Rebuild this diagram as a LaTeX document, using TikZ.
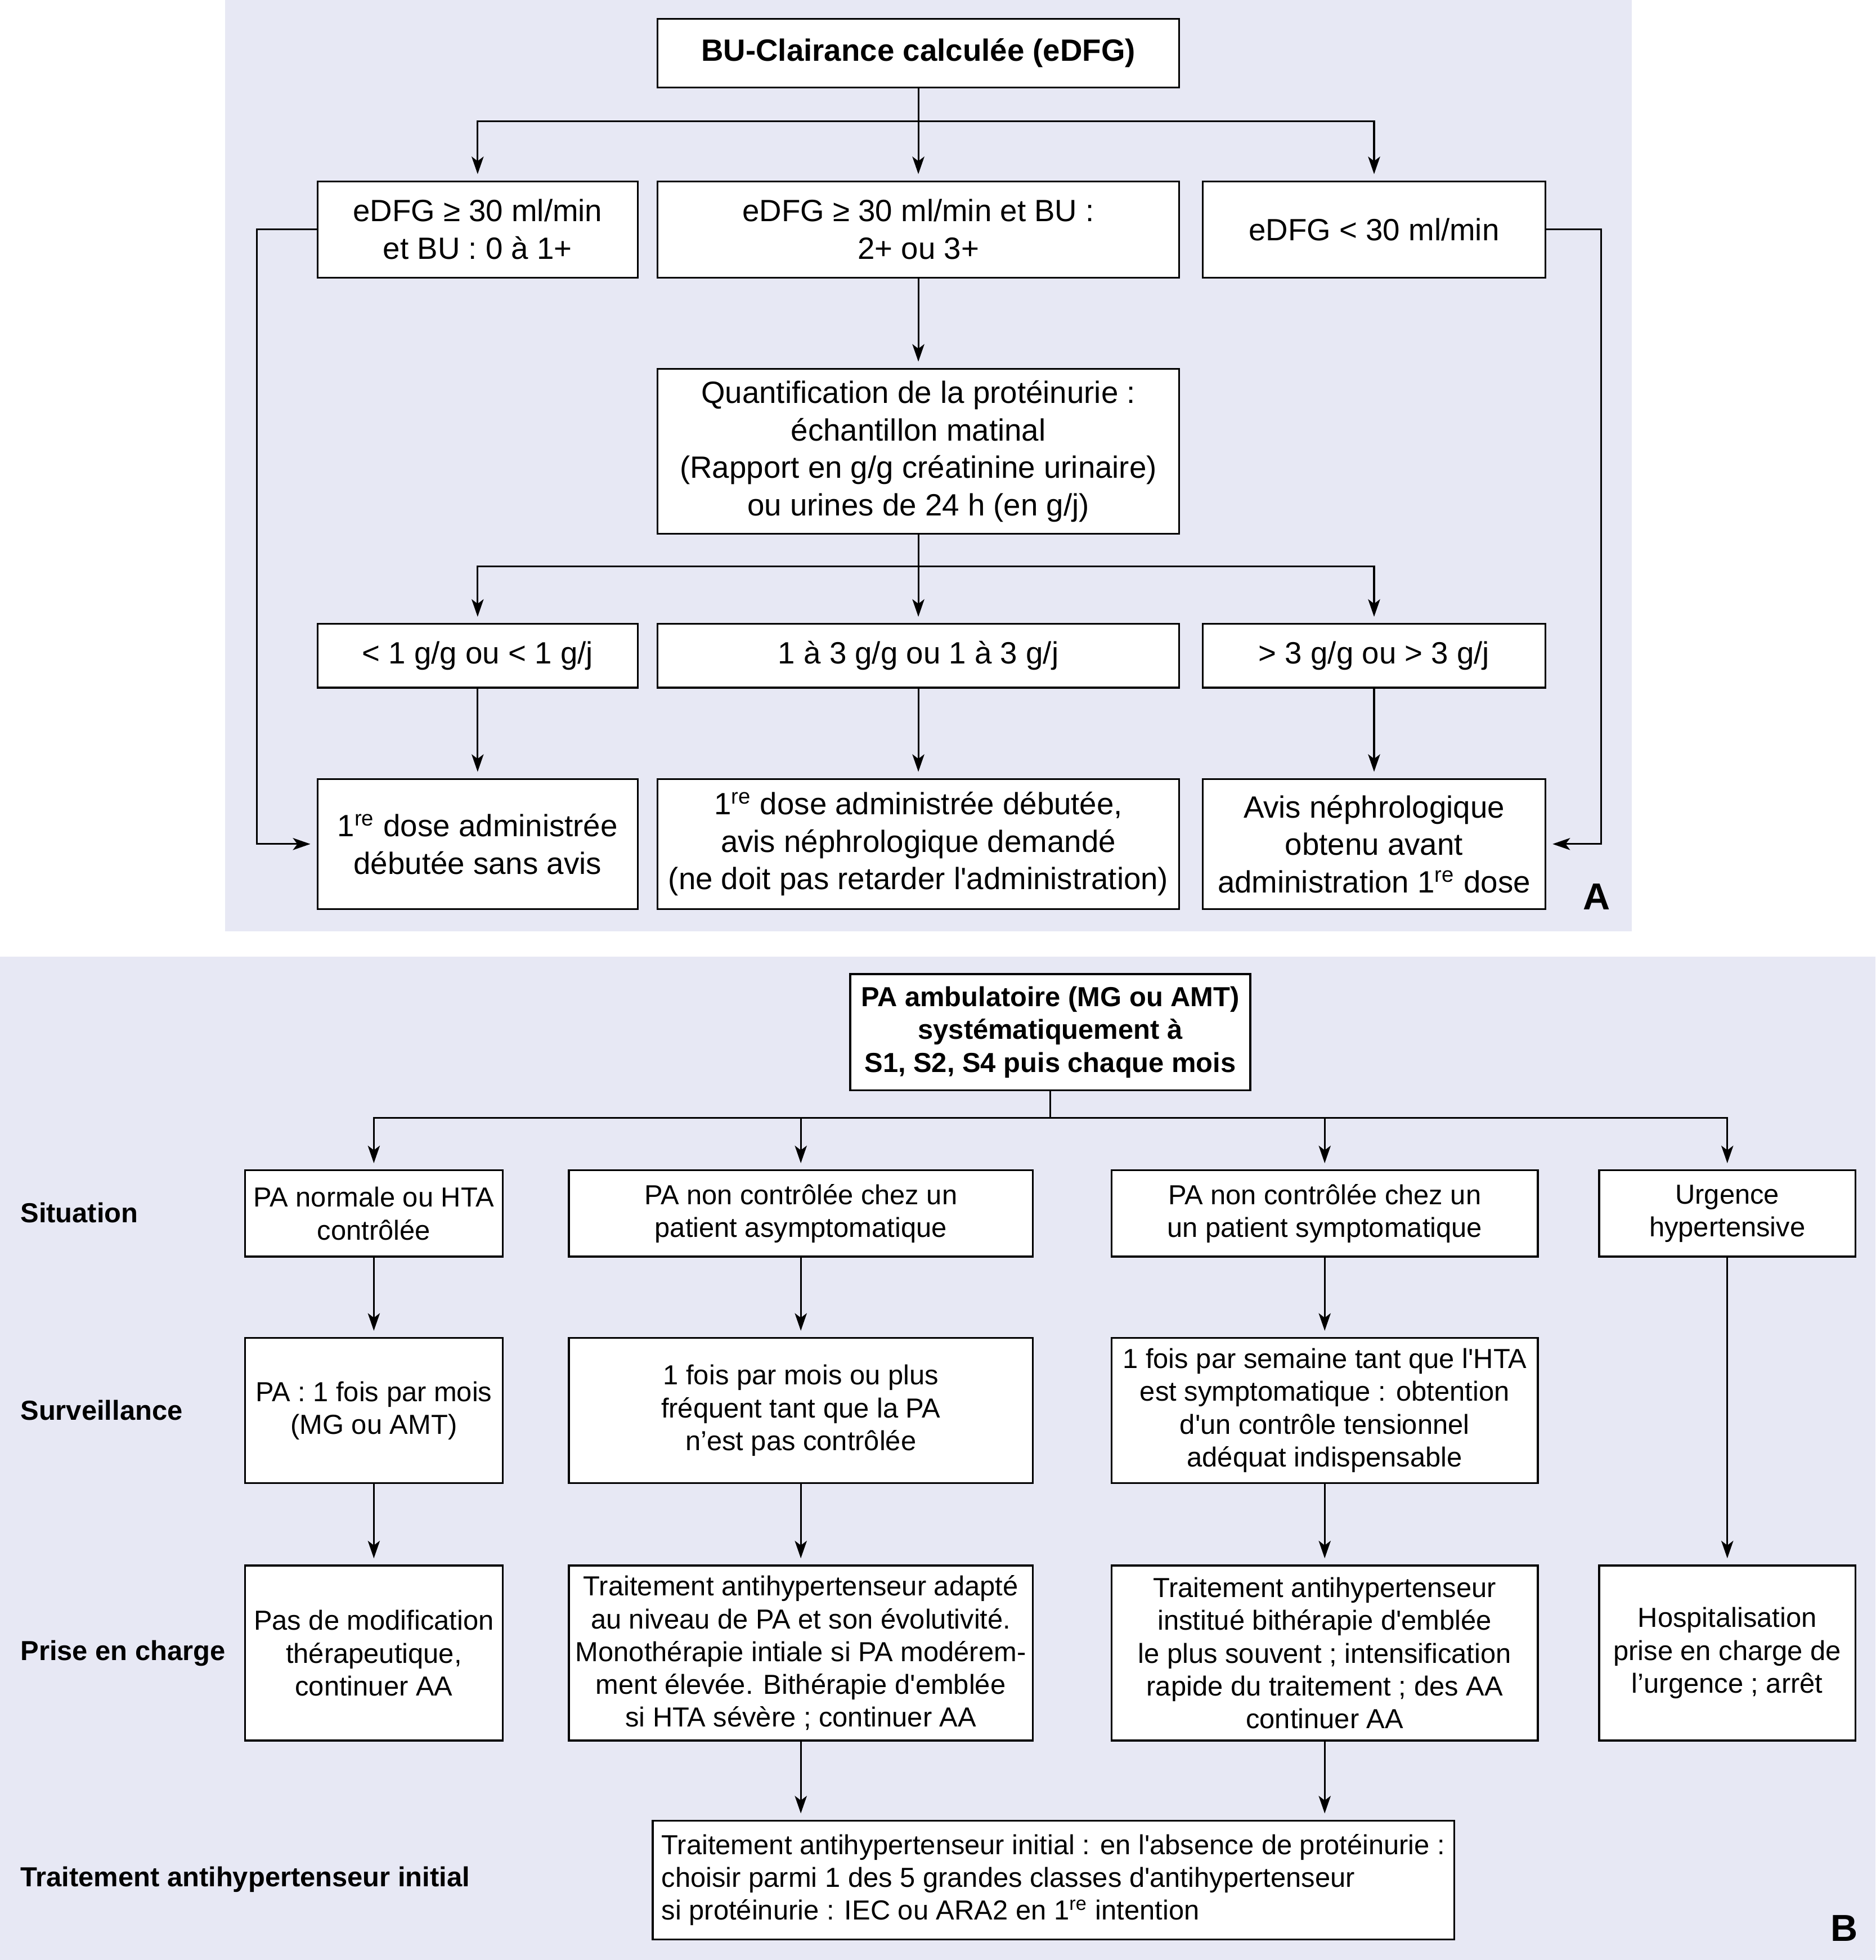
\documentclass[tikz,border=0pt]{standalone}
\usepackage{fontspec}
\setmainfont{Liberation Sans}[Ligatures=TeXOff]
\usetikzlibrary{arrows.meta}
\definecolor{bgcol}{RGB}{231,232,244}
\begin{document}
\begin{tikzpicture}[x=0.5pt,y=-0.5pt,
 box/.style={draw,line width=0.75pt,fill=white,align=center,inner sep=0pt},
 fa/.style={font=\fontsize{12.3}{15}\selectfont},
 fab/.style={font=\bfseries\fontsize{12.3}{15}\selectfont},
 fb/.style={font=\fontsize{11}{13.1}\selectfont},
 fbb/.style={font=\bfseries\fontsize{11}{13.2}\selectfont},
 arr/.style={-{Stealth[length=7pt,width=4.8pt,inset=1.8pt]},line width=0.7pt,shorten >=2.5pt},
 ln/.style={line width=0.7pt},
 lab/.style={anchor=west,font=\bfseries\fontsize{11}{13}\selectfont,inner sep=0pt},
 panlab/.style={font=\bfseries\fontsize{15}{18}\selectfont,inner sep=0pt}]
\useasboundingbox (0,0) rectangle (1500,1567.5);
\fill[bgcol] (180,0) rectangle (1305,745);
\fill[bgcol] (0,765) rectangle (1500,1567.5);

% ---------- Panel A ----------
\node[box,fab,minimum width=208.5pt,minimum height=27.5pt] (tA) at (734.5,42.5) {BU-Clairance calculée (eDFG)};
\node[box,fa,minimum width=128pt,minimum height=38.5pt] (L1) at (382,183.5) {eDFG ≥ 30 ml/min\\et BU : 0 à 1+};
\node[box,fa,minimum width=208.5pt,minimum height=38.5pt] (M1) at (734.5,183.5) {eDFG ≥ 30 ml/min et BU :\\2+ ou 3+};
\node[box,fa,minimum width=137pt,minimum height=38.5pt] (R1) at (1099,183.5) {eDFG < 30 ml/min};
\node[box,fa,minimum width=208.5pt,minimum height=66pt] (Q) at (734.5,361) {Quantification de la protéinurie :\\échantillon matinal\\(Rapport en g/g créatinine urinaire)\\ou urines de 24 h (en g/j)};
\node[box,fa,minimum width=128pt,minimum height=25.5pt] (L3) at (382,524.5) {< 1 g/g ou < 1 g/j};
\node[box,fa,minimum width=208.5pt,minimum height=25.5pt] (M3) at (734.5,524.5) {1 à 3 g/g ou 1 à 3 g/j};
\node[box,fa,minimum width=137pt,minimum height=25.5pt] (R3) at (1099,524.5) {> 3 g/g ou > 3 g/j};
\node[box,fa,minimum width=128pt,minimum height=52pt] (L4) at (382,675) {1\textsuperscript{re} dose administrée\\débutée sans avis};
\node[box,fa,minimum width=208.5pt,minimum height=52pt] (M4) at (734.5,675) {1\textsuperscript{re} dose administrée débutée,\\avis néphrologique demandé\\(ne doit pas retarder l'administration)};
\node[box,fa,minimum width=137pt,minimum height=52pt] (R4) at (1099,675) {Avis néphrologique\\obtenu avant\\administration 1\textsuperscript{re} dose};
\node[panlab] (labA) at (1277,717) {A};

\coordinate (jA) at (734.5,97);
\draw[arr] (tA.south) -- (M1.north);
\draw[arr] (jA) -| (L1.north);
\draw[arr] (jA) -| (R1.north);
\draw[arr] (M1.south) -- (Q.north);
\coordinate (jQ) at (734.5,453);
\draw[arr] (Q.south) -- (M3.north);
\draw[arr] (jQ) -| (L3.north);
\draw[arr] (jQ) -| (R3.north);
\draw[arr] (L3.south) -- (L4.north);
\draw[arr] (M3.south) -- (M4.north);
\draw[arr] (R3.south) -- (R4.north);
\draw[arr] (L1.west) -- ++(-48,0) |- (L4.west);
\draw[arr] (R1.east) -- ++(44,0) |- (R4.east);

% ---------- Panel B ----------
\node[box,fbb,minimum width=160pt,minimum height=46.5pt] (tB) at (840,825.5) {PA ambulatoire (MG ou AMT)\\systématiquement à\\S1, S2, S4 puis chaque mois};

\node[box,fb,minimum width=103pt,minimum height=34.5pt] (S1) at (299,970.5) {PA normale ou HTA\\contrôlée};
\node[box,fb,minimum width=185.5pt,minimum height=34.5pt] (S2) at (640.5,970.5) {PA non contrôlée chez un\\patient asymptomatique};
\node[box,fb,minimum width=170.5pt,minimum height=34.5pt] (S3) at (1059.5,970.5) {PA non contrôlée chez un\\un patient symptomatique};
\node[box,fb,minimum width=102.5pt,minimum height=34.5pt] (S4) at (1381.5,970.5) {Urgence\\hypertensive};

\node[box,fb,minimum width=103pt,minimum height=58pt] (V1) at (299,1128) {PA : 1 fois par mois\\(MG ou AMT)};
\node[box,fb,minimum width=185.5pt,minimum height=58pt] (V2) at (640.5,1128) {1 fois par mois ou plus\\fréquent tant que la PA\\n’est pas contrôlée};
\node[box,fb,minimum width=170.5pt,minimum height=58pt] (V3) at (1059.5,1128) {1 fois par semaine tant que l'HTA\\est symptomatique : obtention\\d'un contrôle tensionnel\\adéquat indispensable};

\node[box,fb,minimum width=103pt,minimum height=70pt] (P1) at (299,1322) {Pas de modification\\thérapeutique,\\continuer AA};
\node[box,fb,minimum width=185.5pt,minimum height=70pt] (P2) at (640.5,1322) {Traitement antihypertenseur adapté\\au niveau de PA et son évolutivité.\\Monothérapie intiale si PA modérem-\\ment élevée. Bithérapie d'emblée\\si HTA sévère ; continuer AA};
\node[box,fb,minimum width=170.5pt,minimum height=70pt] (P3) at (1059.5,1322) {Traitement antihypertenseur\\institué bithérapie d'emblée\\le plus souvent ; intensification\\rapide du traitement ; des AA\\continuer AA};
\node[box,fb,minimum width=102.5pt,minimum height=70pt] (P4) at (1381.5,1322) {Hospitalisation\\prise en charge de\\l’urgence ; arrêt};

\node[box,fb,align=left,minimum width=320.5pt,minimum height=47.5pt] (T) at (842.5,1503.5) {Traitement antihypertenseur initial : en l'absence de protéinurie :\\choisir parmi 1 des 5 grandes classes d'antihypertenseur\\si protéinurie : IEC ou ARA2 en 1\textsuperscript{re} intention};

\node[lab] (lS) at (16,970) {Situation};
\node[lab] (lV) at (16,1128) {Surveillance};
\node[lab] (lP) at (16,1322) {Prise en charge};
\node[lab] (lT) at (16,1503) {Traitement antihypertenseur initial};
\node[panlab] (labB) at (1475,1542) {B};

\coordinate (jB) at (840,894);
\draw[ln] (tB.south) -- (jB);
\draw[arr] (jB) -| (S1.north);
\draw[arr] (jB) -| (S2.north);
\draw[arr] (jB) -| (S3.north);
\draw[arr] (jB) -| (S4.north);
\draw[arr] (S1.south) -- (V1.north);
\draw[arr] (S2.south) -- (V2.north);
\draw[arr] (S3.south) -- (V3.north);
\draw[arr] (S4.south) -- (P4.north);
\draw[arr] (V1.south) -- (P1.north);
\draw[arr] (V2.south) -- (P2.north);
\draw[arr] (V3.south) -- (P3.north);
\draw[arr] (P2.south) -- (P2.south |- T.north);
\draw[arr] (P3.south) -- (P3.south |- T.north);
\end{tikzpicture}
\end{document}
